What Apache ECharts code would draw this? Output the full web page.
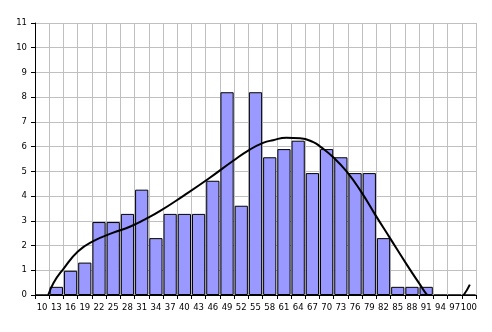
<!DOCTYPE html>
<html>
<head>
<meta charset="utf-8">
<script src="https://cdn.jsdelivr.net/npm/echarts@6/dist/echarts.min.js"></script>
<style>
html,body{margin:0;padding:0;background:#fff;}
#chart{width:492px;height:332px;}
</style>
</head>
<body>
<div id="chart"></div>
<script>
var categories = ['10','13','16','19','22','25','28','31','34','37','40','43','46','49','52','55','58','61','64','67','70','73','76','79','82','85','88','91','94','97','100'];
var barValues = [0, 0.33, 0.98, 1.31, 2.95, 2.95, 3.28, 4.26, 2.3, 3.28, 3.28, 3.28, 4.62, 8.2, 3.61, 8.2, 5.57, 5.9, 6.24, 4.93, 5.9, 5.57, 4.93, 4.93, 2.3, 0.33, 0.33, 0.33, 0, 0, 0];
var curveX = [11.3, 12.4, 14.5, 17.6, 20.8, 25.0, 28.5, 31.7, 34.9, 39.8, 45.0, 50.3, 53.8, 56.6, 58.7, 61.5, 64.4, 67.2, 68.8, 71.4, 74.2, 77.2, 80.2, 83.3, 86.9, 89.7, 91.2, 93.5, 95.5, 97.5, 98.9, 100.2];
var curveY = [0, 0.49, 1.06, 1.77, 2.18, 2.52, 2.76, 3.06, 3.40, 4.01, 4.69, 5.43, 5.88, 6.15, 6.26, 6.36, 6.34, 6.18, 5.98, 5.57, 5.0, 4.2, 3.26, 2.32, 1.23, 0.42, 0, -0.4, -0.5, -0.3, 0, 0.42];
var yTicks = {min: 0, max: 11, step: 1};

var curveData = curveX.map(function (x, i) { return [x, curveY[i]]; });
var font = 'DejaVu Sans';
var chart = echarts.init(document.getElementById('chart'), null, {renderer: 'canvas'});
chart.setOption({
  animation: false,
  backgroundColor: '#ffffff',
  grid: {left: 35, right: 16, top: 23, bottom: 37, containLabel: false},
  xAxis: [{
    type: 'category',
    data: categories,
    boundaryGap: true,
    axisLine: {show: true, lineStyle: {color: '#000', width: 1}},
    axisTick: {show: true, length: 4, lineStyle: {color: '#000'}, alignWithLabel: false},
    axisLabel: {interval: 0, color: '#000', fontFamily: font, fontSize: 8.5, margin: 8},
    splitLine: {show: true, interval: 0, lineStyle: {color: '#c0c0c0', width: 1}}
  }, {
    type: 'value',
    min: 8.5,
    max: 101.5,
    show: false,
    splitLine: {show: false}
  }],
  yAxis: {
    type: 'value',
    min: yTicks.min,
    max: yTicks.max,
    interval: yTicks.step,
    axisLine: {show: true, lineStyle: {color: '#000', width: 1}},
    axisTick: {show: true, length: 4, lineStyle: {color: '#000'}},
    axisLabel: {color: '#000', fontFamily: font, fontSize: 8.5, margin: 8},
    splitLine: {show: true, lineStyle: {color: '#c0c0c0', width: 1}}
  },
  series: [{
    type: 'bar',
    xAxisIndex: 0,
    data: barValues,
    barCategoryGap: '7%',
    itemStyle: {color: '#9999ff', borderColor: '#000', borderWidth: 1}
  }, {
    type: 'line',
    xAxisIndex: 1,
    data: curveData,
    smooth: true,
    symbol: 'none',
    clip: true,
    lineStyle: {color: '#000', width: 2}
  }]
});
</script>
</body>
</html>
